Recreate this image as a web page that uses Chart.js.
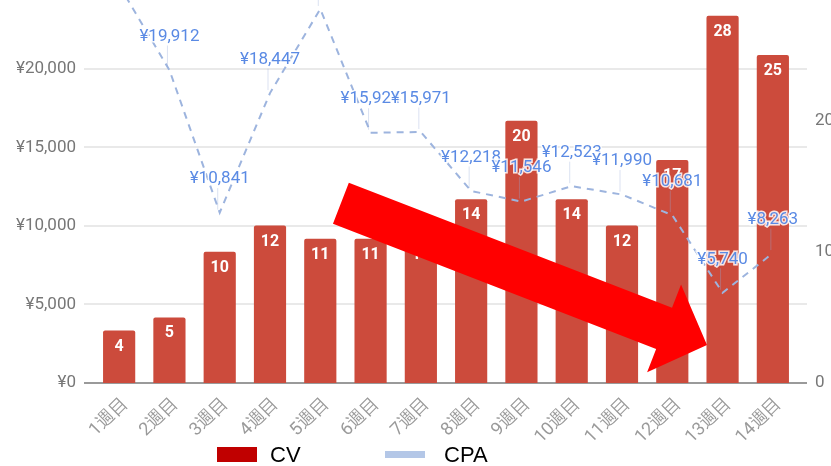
<!DOCTYPE html>
<html>
<head>
<meta charset="utf-8">
<script src="https://cdn.jsdelivr.net/npm/chart.js@4.4.1/dist/chart.umd.min.js"></script>
<style>
  html, body { margin: 0; padding: 0; background: #fff; }
  #wrap { position: relative; width: 831px; height: 466px; overflow: hidden; }
  .lg-box { position: absolute; }
  .lg-text { position: absolute; font-family: "Liberation Sans", Arial, sans-serif; font-size: 22px; color: #000; line-height: 22px; }
</style>
</head>
<body>
<div id="wrap">
  <canvas id="chart" width="831" height="466"></canvas>
  <div class="lg-box" style="left:217px; top:447px; width:40px; height:15px; background:#c00000;"></div>
  <div class="lg-text" style="left:270px; top:444px;">CV</div>
  <div class="lg-box" style="left:385px; top:451px; width:40px; height:7px; background:#b4c7e7;"></div>
  <div class="lg-text" style="left:444px; top:444px;">CPA</div>
</div>
<script>
const weeks = ["1週目", "2週目", "3週目", "4週目", "5週目", "6週目", "7週目",
               "8週目", "9週目", "10週目", "11週目", "12週目", "13週目", "14週目"];
const cvValues = [4, 5, 10, 12, 11, 11, 11, 14, 20, 14, 12, 17, 28, 25];
const cpaValues = [25300, 19912, 10841, 18447, 23800, 15924, 15971,
                   12218, 11546, 12523, 11990, 10681, 5740, 8263];
const cpaTicks = [0, 5000, 10000, 15000, 20000];
const cvTicks = [0, 10, 20];
const cpaMax = 24370;
const cvMax = 29.2;

// arrow annotation, in data units (category index, CV axis value)
const arrowFrom = [4.41, 13.7];
const arrowTo = [11.69, 2.9];

const yen = v => "¥" + v.toLocaleString("en-US");

// scales would otherwise reserve room for half a label at the top
const noPad = s => { s.paddingTop = 0; s.paddingBottom = 0; s.paddingLeft = 0; s.paddingRight = 0; };

// horizontal grid lines, a bit wider than the plot area
const gridPlugin = {
    id: "grid",
    beforeDatasetsDraw(chart) {
        const { ctx, chartArea } = chart;
        const y = chart.scales.y;
        ctx.save();
        cpaTicks.forEach(v => {
            const py = Math.round(y.getPixelForValue(v));
            ctx.beginPath();
            ctx.strokeStyle = v === 0 ? "#9a9a9a" : "#e2e2e2";
            ctx.lineWidth = v === 0 ? 2 : 1.5;
            ctx.moveTo(chartArea.left - 10, py);
            ctx.lineTo(chartArea.right + 9, py);
            ctx.stroke();
        });
        ctx.restore();
    }
};

// value labels for bars and the CPA line
const labelPlugin = {
    id: "labels",
    afterDatasetsDraw(chart) {
        const ctx = chart.ctx;
        ctx.save();
        ctx.textAlign = "center";
        ctx.textBaseline = "middle";

        const bars = chart.getDatasetMeta(1).data;
        ctx.font = "bold 16px Roboto";
        ctx.fillStyle = "#ffffff";
        bars.forEach((b, i) => {
            ctx.fillText(String(cvValues[i]), b.x, b.y + 16);
        });

        const pts = chart.getDatasetMeta(0).data;
        ctx.font = "17px Roboto";
        pts.forEach((p, i) => {
            const ly = p.y - 33.5;
            ctx.beginPath();
            ctx.strokeStyle = "rgba(150,170,215,0.35)";
            ctx.lineWidth = 1;
            ctx.moveTo(p.x - 2, ly + 9);
            ctx.lineTo(p.x - 2, p.y - 3);
            ctx.stroke();
            ctx.lineWidth = 3;
            ctx.strokeStyle = "rgba(255,255,255,0.85)";
            ctx.strokeText(yen(cpaValues[i]), p.x, ly);
            ctx.fillStyle = "#5a8ae4";
            ctx.fillText(yen(cpaValues[i]), p.x, ly);
        });
        ctx.restore();
    },
    afterDraw(chart) {
        const ctx = chart.ctx;
        const x = chart.scales.x, y1 = chart.scales.y1;
        const sx = x.getPixelForValue(arrowFrom[0]), sy = y1.getPixelForValue(arrowFrom[1]);
        const tx = x.getPixelForValue(arrowTo[0]), ty = y1.getPixelForValue(arrowTo[1]);
        const len = Math.hypot(tx - sx, ty - sy);
        const ux = (tx - sx) / len, uy = (ty - sy) / len;
        const nx = -uy, ny = ux;
        const hw = 22, headLen = 46, headHw = 47;
        const ex = tx - ux * headLen, ey = ty - uy * headLen;
        ctx.save();
        ctx.fillStyle = "#ff0000";
        ctx.beginPath();
        ctx.moveTo(sx + nx * hw, sy + ny * hw);
        ctx.lineTo(ex + nx * hw, ey + ny * hw);
        ctx.lineTo(ex + nx * headHw, ey + ny * headHw);
        ctx.lineTo(tx, ty);
        ctx.lineTo(ex - nx * headHw, ey - ny * headHw);
        ctx.lineTo(ex - nx * hw, ey - ny * hw);
        ctx.lineTo(sx - nx * hw, sy - ny * hw);
        ctx.closePath();
        ctx.fill();
        ctx.restore();
    }
};

new Chart(document.getElementById("chart"), {
    data: {
        labels: weeks,
        datasets: [
            {
                type: "line",
                label: "CPA",
                data: cpaValues,
                yAxisID: "y",
                borderColor: "#9db4de",
                borderWidth: 2,
                borderDash: [7, 6],
                pointRadius: 0,
                tension: 0,
                fill: false,
                order: 0
            },
            {
                type: "bar",
                label: "CV",
                data: cvValues,
                yAxisID: "y1",
                backgroundColor: "#cc4b3c",
                borderRadius: 2,
                borderSkipped: "bottom",
                categoryPercentage: 0.64,
                barPercentage: 1.0,
                order: 1
            }
        ]
    },
    options: {
        responsive: false,
        animation: false,
        layout: { padding: 0, autoPadding: false },
        plugins: {
            legend: { display: false },
            title: { display: false },
            tooltip: { enabled: false }
        },
        scales: {
            x: {
                grid: { display: false, drawTicks: false },
                border: { display: false },
                ticks: {
                    autoSkip: false,
                    minRotation: 45,
                    maxRotation: 45,
                    padding: 10,
                    labelOffset: 6,
                    color: "#9a9a9a",
                    font: { family: "Roboto", size: 18 }
                },
                afterFit: s => { s.height = 83; noPad(s); }
            },
            y: {
                position: "left",
                min: 0,
                max: cpaMax,
                grid: { display: false, drawTicks: false },
                border: { display: false },
                ticks: {
                    padding: 18,
                    color: "#777777",
                    font: { family: "Roboto", size: 17 },
                    callback: v => yen(v)
                },
                afterBuildTicks: s => { s.ticks = cpaTicks.map(v => ({ value: v })); },
                afterFit: s => { s.width = 94; noPad(s); }
            },
            y1: {
                position: "right",
                min: 0,
                max: cvMax,
                grid: { display: false, drawTicks: false },
                border: { display: false },
                ticks: {
                    padding: 17,
                    color: "#777777",
                    font: { family: "Roboto", size: 17 }
                },
                afterBuildTicks: s => { s.ticks = cvTicks.map(v => ({ value: v })); },
                afterFit: s => { s.width = 33; noPad(s); }
            }
        }
    },
    plugins: [gridPlugin, labelPlugin]
});
</script>
</body>
</html>
